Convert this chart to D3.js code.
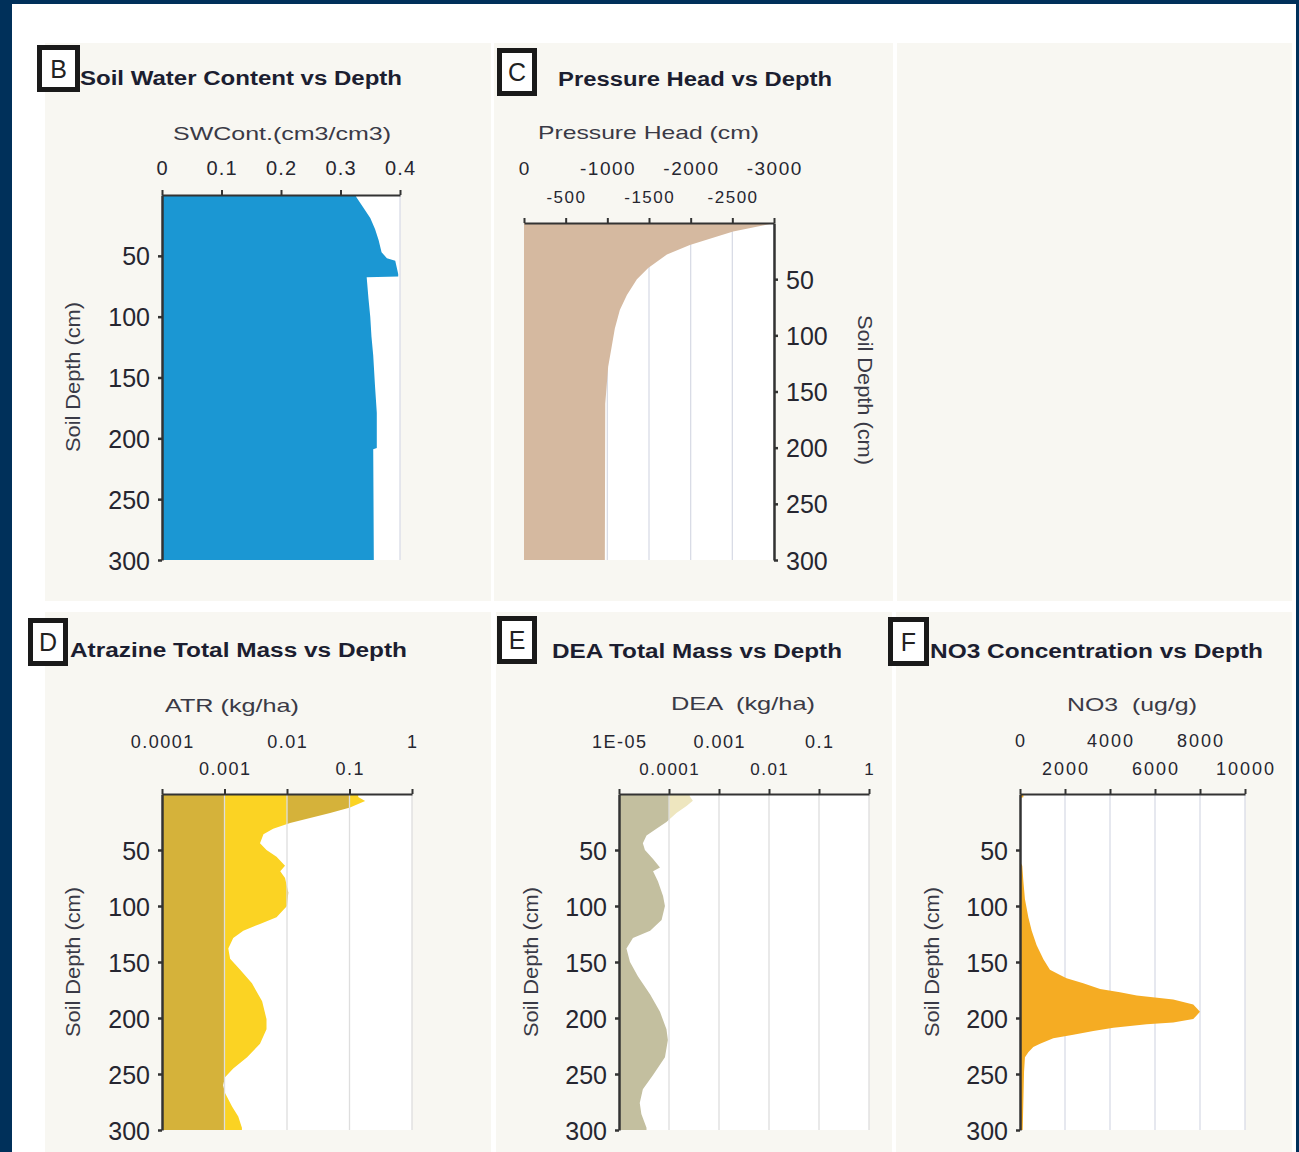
<!DOCTYPE html>
<html>
<head>
<meta charset="utf-8">
<script src="https://cdn.jsdelivr.net/npm/d3@7"></script>
<style>
  html, body { margin: 0; padding: 0; background: #fff; }
  svg { display: block; }
  text { white-space: pre; }
</style>
</head>
<body>
<svg id="fig" width="1299" height="1152"></svg>
<script>
// ---------------- data ----------------
const depthTicks = [50, 100, 150, 200, 250, 300];

// B: soil water content (cm3/cm3) by depth (cm)
const swcDepth = [0, 2, 10, 19, 28, 37, 47, 52, 54, 65, 67, 67.5, 85, 100, 116, 132, 157, 179, 208, 209, 300];
const swcValue = [0.325, 0.327, 0.338, 0.350, 0.358, 0.364, 0.369, 0.378, 0.392, 0.397, 0.397, 0.344, 0.347, 0.350, 0.352, 0.355, 0.358, 0.361, 0.361, 0.355, 0.356];
const swcTicks = [0, 0.1, 0.2, 0.3, 0.4];
const swcTickLabels = ["0", "0.1", "0.2", "0.3", "0.4"];

// C: pressure head (cm) by depth (cm)
const headDepth = [0, 2, 7.6, 14, 19.6, 28, 40, 50, 64, 77.5, 94, 111, 128, 142, 161, 300];
const headValue = [-3000, -2880, -2510, -2230, -1990, -1715, -1490, -1355, -1235, -1150, -1090, -1050, -1010, -995, -975, -970];
const headTicks = [0, -500, -1000, -1500, -2000, -2500, -3000];
const headTickLabels = ["0", "-500", "-1000", "-1500", "-2000", "-2500", "-3000"];

// D: atrazine total mass (kg/ha) by depth (cm)
const atrDepth = [0, 2.7, 6.3, 12, 17, 21.5, 26, 31, 36, 44, 50, 56, 64, 69, 75, 88, 100, 110, 116, 122, 128.5, 138, 147, 157, 169, 185, 201, 210, 223, 235, 245, 253, 260, 267, 279, 288, 298, 300];
const atrValue = [0.138, 0.138, 0.178, 0.102, 0.049, 0.0234, 0.0112, 0.0060, 0.0042, 0.0037, 0.0047, 0.0068, 0.0093, 0.0078, 0.0093, 0.0105, 0.0100, 0.0068, 0.0037, 0.0020, 0.00138, 0.00115, 0.00123, 0.00178, 0.00275, 0.0040, 0.0047, 0.0047, 0.0037, 0.0023, 0.00138, 0.00102, 0.00095, 0.00102, 0.00132, 0.00166, 0.0019, 0.0019];
const atrTicks = [1e-4, 1e-3, 1e-2, 1e-1, 1];
const atrTickLabels = ["0.0001", "0.001", "0.01", "0.1", "1"];

// E: DEA total mass (kg/ha) by depth (cm)
const deaDepth = [0, 2, 6, 10.7, 17, 25, 31, 37, 44, 50, 58, 65.6, 69, 78, 91, 100, 112.5, 122, 128.5, 138, 150, 163, 179, 194.5, 210, 219.6, 235, 251, 263.6, 276, 285.7, 298, 300];
const deaValue = [2.6e-4, 2.6e-4, 3.0e-4, 2.24e-4, 1.41e-4, 8.9e-5, 5.6e-5, 3.55e-5, 3.0e-5, 3.3e-5, 4.8e-5, 6.6e-5, 4.8e-5, 6.0e-5, 7.6e-5, 8.3e-5, 7.1e-5, 4.2e-5, 1.9e-5, 1.41e-5, 1.66e-5, 2.4e-5, 4.2e-5, 6.6e-5, 8.9e-5, 9.5e-5, 8.3e-5, 4.8e-5, 3.0e-5, 2.6e-5, 2.8e-5, 3.55e-5, 3.55e-5];
const deaTicks = [1e-5, 1e-4, 1e-3, 1e-2, 1e-1, 1];
const deaTickLabels = ["1E-05", "0.0001", "0.001", "0.01", "0.1", "1"];

// F: NO3 concentration (ug/g) by depth (cm)
const no3Depth = [0, 3, 3.5, 60, 64, 78, 94, 110, 122, 135, 147.5, 157, 161.5, 164.6, 169, 174, 177, 180, 183.5, 188, 194.5, 201, 204, 205.6, 208.6, 211.6, 215, 218, 223, 226, 230.6, 235, 248, 300];
const no3Value = [150, 150, 0, 0, 100, 150, 220, 370, 520, 740, 1040, 1330, 1780, 2070, 2810, 3560, 4440, 5190, 6810, 7700, 8000, 7700, 6810, 5630, 4150, 3260, 2370, 1480, 890, 590, 370, 220, 180, 120];
const no3Ticks = [0, 2000, 4000, 6000, 8000, 10000];
const no3TickLabels = ["0", "2000", "4000", "6000", "8000", "10000"];

// ---------------- drawing ----------------
const NAVY = "#00305a";
const PANEL_BG = "#f8f7f2";
const AXIS = "#333";
const TEXT = "#262630";
const FONT = "'Liberation Sans', Arial, sans-serif";

const svg = d3.select("#fig");
svg.append("rect").attr("width", 1299).attr("height", 1152).attr("fill", "#fff");

// page frame
svg.append("rect").attr("x", 0).attr("y", 0).attr("width", 1299).attr("height", 4).attr("fill", NAVY);
svg.append("rect").attr("x", 0).attr("y", 0).attr("width", 12).attr("height", 1152).attr("fill", NAVY);
svg.append("rect").attr("x", 1296).attr("y", 0).attr("width", 3).attr("height", 1152).attr("fill", NAVY);

function rowsOf(depths, values) {
  return depths.map((d, i) => ({ depth: d, value: values[i] }));
}

function drawPanel(p) {
  const g = svg.append("g");
  g.append("rect")
    .attr("x", p.bg[0]).attr("y", p.bg[1]).attr("width", p.bg[2]).attr("height", p.bg[3])
    .attr("fill", PANEL_BG);
  if (!p.plot) return;

  const [px0, px1, py0, py1] = p.plot;
  const x = p.x;
  const y = d3.scaleLinear().domain([0, 300]).range([py0, py1]);
  const rows = rowsOf(p.depth, p.value);

  // white plotting area
  g.append("rect").attr("x", px0).attr("y", py0).attr("width", px1 - px0).attr("height", py1 - py0).attr("fill", "#fff");

  const drawGrid = () => {
    g.append("g").selectAll("line")
      .data(p.ticks.slice(1))
      .join("line")
      .attr("x1", v => x(v)).attr("x2", v => x(v))
      .attr("y1", py0).attr("y2", py1)
      .attr("stroke", p.gridColor).attr("stroke-width", 1.3);
  };
  if (!p.gridOnTop) drawGrid();

  const area = d3.area()
    .y(r => y(r.depth))
    .x0(x(p.ticks[0]))
    .x1(r => x(r.value))
    .curve(d3.curveLinear);

  if (p.bandColors) {
    // colour the profile by decade bands of the log scale
    const clipId = "clip-" + p.id;
    g.append("clipPath").attr("id", clipId).append("path").attr("d", area(rows));
    g.append("g").attr("clip-path", `url(#${clipId})`)
      .selectAll("rect")
      .data(d3.pairs(p.ticks))
      .join("rect")
      .attr("x", d => x(d[0])).attr("width", d => x(d[1]) - x(d[0]))
      .attr("y", py0).attr("height", py1 - py0)
      .attr("fill", (d, i) => p.bandColors[i % 2]);
  } else {
    g.append("path").attr("d", area(rows)).attr("fill", p.fill);
  }
  if (p.gridOnTop) drawGrid();

  // top value axis
  g.append("g")
    .attr("transform", `translate(0,${py0})`)
    .call(d3.axisTop(x).tickValues(p.ticks).tickSize(5).tickSizeOuter(0).tickFormat(""))
    .call(s => s.selectAll("path,line").attr("stroke", AXIS).attr("stroke-width", 2));

  g.append("g").selectAll("text")
    .data(p.ticks)
    .join("text")
    .attr("x", v => x(v) + p.tickLs / 2)
    .attr("y", (v, i) => (p.twoRows && i % 2 === 1) ? p.row2 : p.row1)
    .attr("text-anchor", "middle")
    .attr("font-family", FONT)
    .attr("font-size", (v, i) => (p.twoRows && i % 2 === 1) ? p.row2Size : p.row1Size)
    .attr("letter-spacing", p.tickLs)
    .attr("fill", TEXT)
    .text((v, i) => p.tickLabels[i]);

  // depth axis
  const ax = (p.yRight ? d3.axisRight(y) : d3.axisLeft(y))
    .tickValues(depthTicks).tickSize(4).tickSizeOuter(0).tickPadding(8);
  g.append("g")
    .attr("transform", `translate(${p.yRight ? px1 : px0},0)`)
    .call(ax)
    .call(s => {
      s.attr("font-family", null).attr("font-size", null);
      s.selectAll("path,line").attr("stroke", AXIS).attr("stroke-width", 2.5);
      s.selectAll("text")
        .attr("font-family", FONT).attr("font-size", 25).attr("fill", TEXT)
        .attr("dy", "0.36em");
    });

  // depth axis title
  g.append("text")
    .attr("transform", `translate(${p.yTitle[0]},${p.yTitle[1]}) rotate(${p.yRight ? 90 : -90})`)
    .attr("text-anchor", "middle")
    .attr("dy", "0.35em")
    .attr("font-family", FONT).attr("font-size", 20).attr("fill", "#3a3a46")
    .attr("textLength", 150).attr("lengthAdjust", "spacingAndGlyphs")
    .text("Soil Depth (cm)");

  // value axis title
  g.append("text")
    .attr("x", p.axisTitle[0]).attr("y", p.axisTitle[1])
    .attr("font-family", FONT).attr("font-size", 19).attr("fill", "#3a3a46")
    .attr("textLength", p.axisTitle[2]).attr("lengthAdjust", "spacingAndGlyphs")
    .text(p.axisTitleText);

  // panel title
  g.append("text")
    .attr("x", p.title[0]).attr("y", p.title[1])
    .attr("font-family", FONT).attr("font-weight", "bold").attr("font-size", 20).attr("fill", "#1c1e30")
    .attr("textLength", p.title[2]).attr("lengthAdjust", "spacingAndGlyphs")
    .text(p.titleText);

  // panel letter box
  const [bx, by, bw, bh] = p.box;
  g.append("rect")
    .attr("x", bx + 2.5).attr("y", by + 2.5).attr("width", bw - 5).attr("height", bh - 5)
    .attr("fill", "#fff").attr("stroke", "#1a1a1a").attr("stroke-width", 5);
  g.append("text")
    .attr("x", bx + bw / 2).attr("y", by + bh / 2 + 9)
    .attr("text-anchor", "middle")
    .attr("font-family", FONT).attr("font-size", 25).attr("fill", "#222")
    .text(p.letter);
}

const panels = [
  {
    id: "b", letter: "B", titleText: "Soil Water Content vs Depth", axisTitleText: "SWCont.(cm3/cm3)",
    bg: [45, 43, 446, 558], box: [37, 45, 43, 47], title: [80, 85, 322], axisTitle: [173, 140, 218],
    plot: [162, 400, 195, 560], yTitle: [73, 377],
    x: d3.scaleLinear().domain([0, 0.4]).range([162, 400]),
    ticks: swcTicks, tickLabels: swcTickLabels, twoRows: false, row1: 175, row1Size: 20, tickLs: 1.2,
    depth: swcDepth, value: swcValue, fill: "#1b97d3", gridColor: "#d9dce6"
  },
  {
    id: "c", letter: "C", titleText: "Pressure Head vs Depth", axisTitleText: "Pressure Head (cm)",
    bg: [494, 43, 399, 558], box: [497, 48, 40, 48], title: [558, 86, 274], axisTitle: [538, 139, 221],
    plot: [524, 774, 223, 560], yTitle: [865, 390], yRight: true,
    x: d3.scaleLinear().domain([0, -3000]).range([524, 774]),
    ticks: headTicks, tickLabels: headTickLabels, twoRows: true, row1: 175, row2: 203, row1Size: 19, row2Size: 17, tickLs: 1.5,
    depth: headDepth, value: headValue, fill: "#d5b9a0", gridColor: "#d9dce6"
  },
  { id: "empty", bg: [897, 43, 395, 558] },
  {
    id: "d", letter: "D", titleText: "Atrazine Total Mass vs Depth", axisTitleText: "ATR (kg/ha)",
    bg: [45, 612, 446, 540], box: [28, 618, 40, 48], title: [70, 657, 337], axisTitle: [165, 712, 134],
    plot: [162, 412, 794, 1130], yTitle: [73, 962],
    x: d3.scaleLog().domain([1e-4, 1]).range([162, 412]),
    ticks: atrTicks, tickLabels: atrTickLabels, twoRows: true, row1: 748, row2: 775, row1Size: 18, row2Size: 18, tickLs: 1.5,
    depth: atrDepth, value: atrValue, bandColors: ["#d5b23a", "#fbd323"], gridColor: "#dedede", gridOnTop: true
  },
  {
    id: "e", letter: "E", titleText: "DEA Total Mass vs Depth", axisTitleText: "DEA  (kg/ha)",
    bg: [496, 612, 396, 540], box: [497, 616, 40, 48], title: [552, 658, 290], axisTitle: [671, 710, 144],
    plot: [619, 869, 794, 1130], yTitle: [531, 962],
    x: d3.scaleLog().domain([1e-5, 1]).range([619, 869]),
    ticks: deaTicks, tickLabels: deaTickLabels, twoRows: true, row1: 748, row2: 775, row1Size: 18, row2Size: 17, tickLs: 1.5,
    depth: deaDepth, value: deaValue, bandColors: ["#c3bf9f", "#eee6bf"], gridColor: "#dedede", gridOnTop: true
  },
  {
    id: "f", letter: "F", titleText: "NO3 Concentration vs Depth", axisTitleText: "NO3  (ug/g)",
    bg: [896, 612, 396, 540], box: [888, 617, 41, 49], title: [930, 658, 333], axisTitle: [1067, 711, 130],
    plot: [1020, 1245, 794, 1130], yTitle: [932, 962],
    x: d3.scaleLinear().domain([0, 10000]).range([1020, 1245]),
    ticks: no3Ticks, tickLabels: no3TickLabels, twoRows: true, row1: 747, row2: 775, row1Size: 18, row2Size: 18, tickLs: 2,
    depth: no3Depth, value: no3Value, fill: "#f5ac23", gridColor: "#d9dce6"
  }
];

panels.forEach(drawPanel);
</script>
</body>
</html>
